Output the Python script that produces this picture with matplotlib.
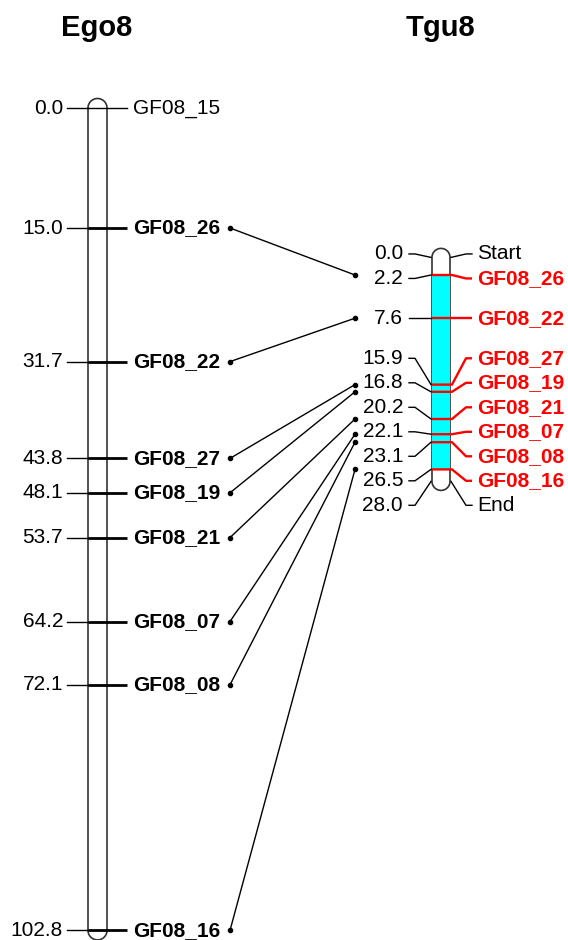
import matplotlib
matplotlib.use('Agg')
import matplotlib.pyplot as plt
from matplotlib.patches import Polygon, Rectangle
import numpy as np

plt.rcParams['font.family'] = ['Liberation Sans', 'DejaVu Sans']

# map data (cM)
ego_pos = [0.0, 15.0, 31.7, 43.8, 48.1, 53.7, 64.2, 72.1, 102.8]
ego_names = ['GF08_15', 'GF08_26', 'GF08_22', 'GF08_27', 'GF08_19',
             'GF08_21', 'GF08_07', 'GF08_08', 'GF08_16']
ego_bold = [False, True, True, True, True, True, True, True, True]

tgu_pos = [0.0, 2.2, 7.6, 15.9, 16.8, 20.2, 22.1, 23.1, 26.5, 28.0]
tgu_names = ['Start', 'GF08_26', 'GF08_22', 'GF08_27', 'GF08_19',
             'GF08_21', 'GF08_07', 'GF08_08', 'GF08_16', 'End']

SCALE = 8.0        # px per cM
EGO_TOP = 108
TGU_TOP = 257.4
GAP = 24.5
FS = 15
LW = 1.0


def spread(ys, gap):
    groups = []
    for y in ys:
        groups.append([y, 1])
        while len(groups) > 1:
            c1, n1 = groups[-2]
            c2, n2 = groups[-1]
            if (c2 - (n2 - 1) * gap / 2) - (c1 + (n1 - 1) * gap / 2) < gap:
                groups[-2:] = [[(c1 * n1 + c2 * n2) / (n1 + n2), n1 + n2]]
            else:
                break
    out = []
    for c, n in groups:
        out += [c - (n - 1) * gap / 2 + i * gap for i in range(n)]
    return out


def capsule(ax, x0, x1, y0, y1, face='white'):
    r = (x1 - x0) / 2
    xc = (x0 + x1) / 2
    t = np.linspace(np.pi, 2 * np.pi, 40)
    top = np.column_stack([xc + r * np.cos(t), y0 + r * np.sin(t)])
    t2 = np.linspace(0, np.pi, 40)
    bot = np.column_stack([xc + r * np.cos(t2), y1 + r * np.sin(t2)])
    pts = np.vstack([top, bot])
    ax.add_patch(Polygon(pts, closed=True, facecolor=face, edgecolor='#333333',
                         lw=1.2, zorder=2))


fig = plt.figure(figsize=(5.68, 9.40), dpi=100)
ax = fig.add_axes([0, 0, 1, 1])
ax.set_xlim(0, 568)
ax.set_ylim(940, 0)
ax.axis('off')

# ---- Ego8
ego_y = [EGO_TOP + p * SCALE for p in ego_pos]
ego_lab = spread(ego_y, GAP)
capsule(ax, 88, 107, ego_y[0], ego_y[-1])
ax.text(97, 28, 'Ego8', ha='center', va='center', fontsize=21, fontweight='bold')
for p, y, ly, name, b in zip(ego_pos, ego_y, ego_lab, ego_names, ego_bold):
    ax.text(63, ly, f'{p:.1f}', ha='right', va='center', fontsize=FS)
    ax.plot([67, 88], [ly, y], color='black', lw=LW, zorder=3)
    if b:
        ax.plot([88, 127], [y, ly], color='black', lw=2.0, zorder=3,
                solid_capstyle='butt')
    else:
        ax.plot([88, 127], [y, ly], color='black', lw=LW, zorder=3)
    ax.text(133, ly, name, ha='left', va='center', fontsize=FS,
            fontweight='bold' if b else 'normal')

# ---- Tgu8
tgu_y = [TGU_TOP + p * SCALE for p in tgu_pos]
tgu_lab = spread(tgu_y, GAP)
capsule(ax, 432, 450, tgu_y[0], tgu_y[-1])
ax.add_patch(Rectangle((432, tgu_y[1]), 18, tgu_y[-2] - tgu_y[1],
                       facecolor='#00ffff', edgecolor='none', zorder=2.5))
ax.text(440, 28, 'Tgu8', ha='center', va='center', fontsize=21, fontweight='bold')
for p, y, ly, name in zip(tgu_pos, tgu_y, tgu_lab, tgu_names):
    ax.text(403, ly, f'{p:.1f}', ha='right', va='center', fontsize=FS)
    ax.plot([409, 415, 431], [ly, ly, y], color='black', lw=LW, zorder=3)
    if name in ('Start', 'End'):
        ax.plot([451, 466, 472], [y, ly, ly], color='black', lw=LW, zorder=3)
        ax.text(477, ly, name, ha='left', va='center', fontsize=FS)
    else:
        ax.plot([432, 452, 466, 472], [y, y, ly, ly], color='red', lw=1.7,
                zorder=4, solid_capstyle='butt')
        ax.text(477, ly, name, ha='left', va='center', fontsize=FS,
                fontweight='bold', color='red')

# ---- homolog connections
for name, y in zip(ego_names, ego_y):
    if name in tgu_names:
        ty = tgu_y[tgu_names.index(name)]
        ax.plot([230, 355], [y, ty], color='black', lw=LW, zorder=3)
        ax.plot([230, 355], [y, ty], 'o', color='black', ms=3, zorder=4)

fig.savefig('out.png', dpi=100)
